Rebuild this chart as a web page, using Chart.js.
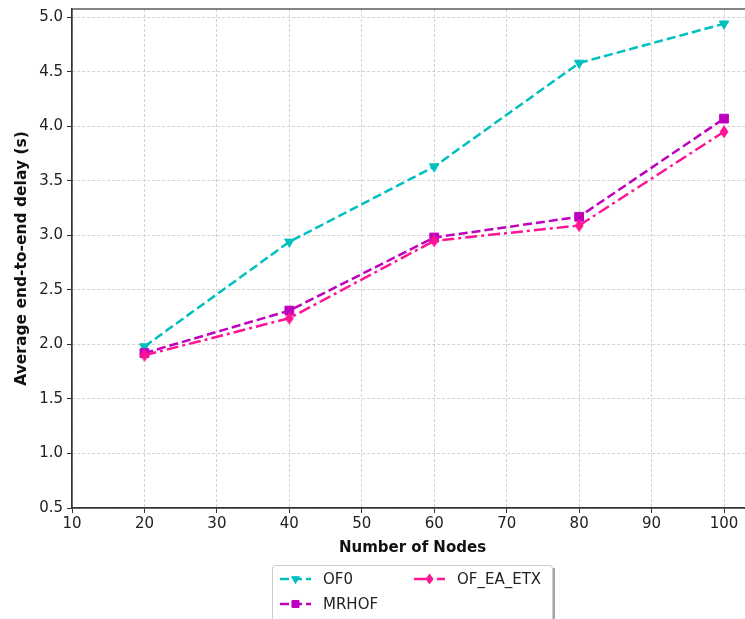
<!DOCTYPE html>
<html>
<head>
<meta charset="utf-8">
<script src="https://cdn.jsdelivr.net/npm/chart.js@4.4.1/dist/chart.umd.min.js"></script>
<style>
  html, body { margin: 0; padding: 0; background: #fff; overflow: hidden; }
  #wrap { width: 745px; height: 619px; overflow: hidden; }
  canvas { display: block; }
</style>
</head>
<body>
<div id="wrap"><canvas id="chart" width="770" height="619"></canvas></div>
<script>
// data
const NODES = [20, 40, 60, 80, 100];
const OF0 = [1.98, 2.94, 3.63, 4.58, 4.94];
const MRHOF = [1.92, 2.31, 2.98, 3.17, 4.07];
const OF_EA_ETX = [1.90, 2.24, 2.95, 3.09, 3.95];
const SERIES_NAMES = ['OF0', 'MRHOF', 'OF_EA_ETX'];
const X_TICKS = [10, 20, 30, 40, 50, 60, 70, 80, 90, 100];
const Y_TICKS = [0.5, 1.0, 1.5, 2.0, 2.5, 3.0, 3.5, 4.0, 4.5, 5.0];

const CYAN = '#00bfbf';
const MAGENTA = '#bf00bf';
const PINK = '#ff1493';
const FONT = 'DejaVu Sans';
const DASH = [9, 4];
const DASHDOT = [12, 4, 3, 4];

// thin diamond like matplotlib 'd'
function thinDiamond(color, w, h) {
  const c = document.createElement('canvas');
  c.width = w; c.height = h;
  const g = c.getContext('2d');
  g.fillStyle = color;
  g.beginPath();
  g.moveTo(w / 2, 0.5);
  g.lineTo(w - 0.5, h / 2);
  g.lineTo(w / 2, h - 0.5);
  g.lineTo(0.5, h / 2);
  g.closePath();
  g.fill();
  return c;
}

const seriesStyle = [
  { color: CYAN, dash: DASH, marker: 'triangle', rot: 180, radius: 5.5, legendMarker: 'triangle', legendRadius: 4.5 },
  { color: MAGENTA, dash: DASH, marker: 'rect', rot: 0, radius: 6.2, legendMarker: 'rect', legendRadius: 5 },
  { color: PINK, dash: DASHDOT, marker: thinDiamond(PINK, 10, 14), rot: 0, radius: 7, legendMarker: thinDiamond(PINK, 9, 12), legendRadius: 6 },
];

const toPoints = (vals) => vals.map((v, i) => ({ x: NODES[i], y: v }));

const datasets = [OF0, MRHOF, OF_EA_ETX].map((vals, i) => ({
  label: SERIES_NAMES[i],
  data: toPoints(vals),
  borderColor: seriesStyle[i].color,
  backgroundColor: seriesStyle[i].color,
  borderWidth: 2.5,
  borderDash: seriesStyle[i].dash,
  pointStyle: seriesStyle[i].marker,
  rotation: seriesStyle[i].rot,
  pointRadius: seriesStyle[i].radius,
  pointBorderWidth: 1,
  tension: 0,
  order: 3 - i,
}));

// frame around plot (top spine)
const frame = {
  id: 'frame',
  afterDatasetsDraw(chart) {
    const { ctx, chartArea } = chart;
    ctx.save();
    ctx.strokeStyle = '#333';
    ctx.lineWidth = 1.2;
    ctx.strokeRect(chartArea.left, chartArea.top, chartArea.right - chartArea.left, chartArea.bottom - chartArea.top);
    ctx.restore();
  }
};

// legend below the axis, 2 columns like matplotlib
const legendBox = {
  id: 'legendBox',
  afterDraw(chart) {
    const { ctx } = chart;
    const bx = 272.5, by = 565.5, bw = 280, bh = 70;
    ctx.save();
    // shadow
    ctx.fillStyle = 'rgba(0,0,0,0.35)';
    ctx.fillRect(bx + 2.5, by + 2.5, bw, bh);
    ctx.fillStyle = '#fff';
    ctx.strokeStyle = '#cccccc';
    ctx.lineWidth = 1;
    ctx.beginPath();
    ctx.roundRect(bx, by, bw, bh, 3);
    ctx.fill();
    ctx.stroke();

    const slots = [
      { x: 280, y: 579 },
      { x: 280, y: 604 },
      { x: 414, y: 579 },
    ];
    ctx.font = '15px "' + FONT + '"';
    ctx.textBaseline = 'middle';
    ctx.textAlign = 'left';
    slots.forEach((s, i) => {
      const st = seriesStyle[i];
      ctx.strokeStyle = st.color;
      ctx.fillStyle = st.color;
      ctx.lineWidth = 2.5;
      ctx.setLineDash(st.dash);
      ctx.beginPath();
      ctx.moveTo(s.x, s.y);
      ctx.lineTo(s.x + 31, s.y);
      ctx.stroke();
      ctx.setLineDash([]);
      ctx.lineWidth = 1;
      Chart.helpers.drawPoint(ctx, {
        pointStyle: st.legendMarker, rotation: st.rot, radius: st.legendRadius, borderWidth: 1
      }, s.x + 15.5, s.y);
      ctx.fillStyle = '#222';
      ctx.fillText(SERIES_NAMES[i], s.x + 43, s.y + 1);
    });
    ctx.restore();
  }
};

new Chart(document.getElementById('chart'), {
  type: 'line',
  data: { datasets },
  options: {
    responsive: false,
    animation: false,
    layout: { padding: { top: 9, right: 17, bottom: 62, left: 0 } },
    plugins: { legend: { display: false }, tooltip: { enabled: false } },
    scales: {
      x: {
        type: 'linear',
        min: 10,
        max: 104,
        afterBuildTicks(scale) { scale.ticks = X_TICKS.map(v => ({ value: v })); },
        afterFit(scale) { scale.height = 49; scale.paddingLeft = 0; scale.paddingRight = 0; },
        ticks: { font: { family: FONT, size: 15 }, color: '#222', padding: 2, maxRotation: 0 },
        grid: { color: '#c8c8c8', lineWidth: 0.8, tickColor: '#333', tickLength: 5, tickWidth: 1 },
        border: { color: '#333', width: 1.2, dash: [3, 2] },
        title: { display: true, text: 'Number of Nodes', font: { family: FONT, size: 15, weight: 'bold' }, color: '#111', padding: { top: 1, bottom: 0 } }
      },
      y: {
        type: 'linear',
        min: 0.5,
        max: 5.075,
        afterBuildTicks(scale) { scale.ticks = Y_TICKS.map(v => ({ value: v })); },
        afterFit(scale) { scale.width = 72; scale.paddingTop = 0; scale.paddingBottom = 0; },
        ticks: { font: { family: FONT, size: 15 }, color: '#222', padding: 4, callback: (v) => v.toFixed(1) },
        grid: { color: '#c8c8c8', lineWidth: 0.8, tickColor: '#333', tickLength: 5, tickWidth: 1 },
        border: { color: '#333', width: 1.2, dash: [3, 2] },
        title: { display: true, text: 'Average end-to-end delay (s)', font: { family: FONT, size: 15.5, weight: 'bold' }, color: '#111', padding: { top: 13, bottom: 0 } }
      }
    }
  },
  plugins: [frame, legendBox]
});
</script>
</body>
</html>
